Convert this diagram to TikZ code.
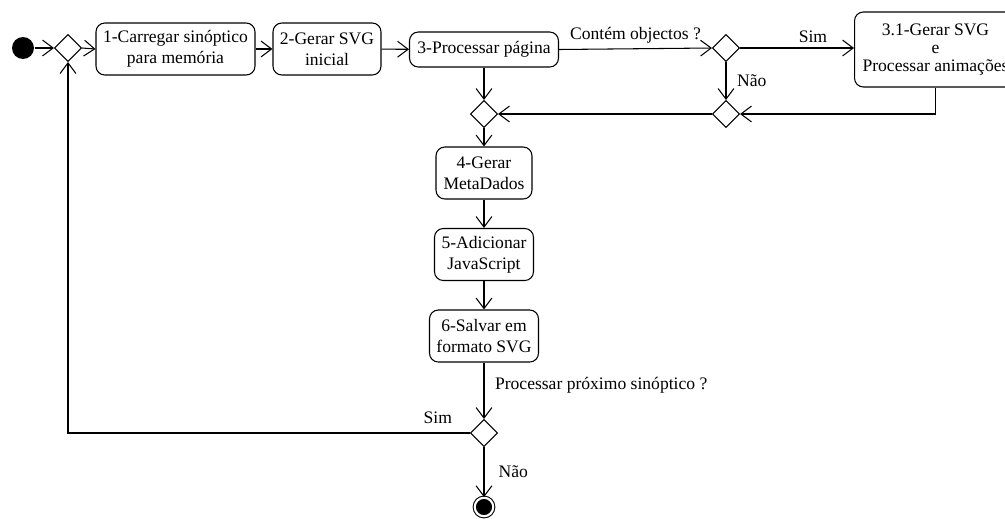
\documentclass[tikz,border=0pt]{standalone}
\usepackage{fontspec}
\setmainfont{Liberation Serif}
\usetikzlibrary{shapes.geometric,arrows.meta}

\tikzset{
  act/.style={draw, rounded corners=5pt, align=center, inner xsep=2pt, inner ysep=2pt, minimum height=1.04cm},
  decis/.style={draw, diamond, aspect=1, inner sep=0pt, minimum size=0.54cm, fill=white},
  flow/.style={-{Straight Barb[length=6pt,width=9pt]}},
  lbl/.style={inner sep=3pt},
}

\begin{document}
\begin{tikzpicture}[x=0.02cm, y=-0.02cm, line width=0.6pt, font=\fontsize{10}{12}\selectfont]
	\clip (0,0) rectangle (1005,518);

	% inicio e fim
	\node[circle, fill=black, minimum size=0.44cm, inner sep=0pt] (inicio) at (23,48) {};
	\node[circle, fill=black, draw, double=white, double distance=1.2pt, minimum size=0.37cm, inner sep=0pt] (fim) at (484,507) {};

	% decisoes
	\node[decis] (d1) at (68,48) {};
	\node[decis] (dObj) at (726,48) {};
	\node[decis] (dJunta) at (484,114) {};
	\node[decis] (dNao) at (726,114) {};
	\node[decis] (dProx) at (484,433) {};

	% actividades
	\node[act, minimum width=3.18cm] (carregar) at (175.5,49) {1-Carregar sinóptico\\para memória};
	\node[act, minimum width=2.16cm] (gerar) at (327,49) {2-Gerar SVG\\inicial};
	\node[act, minimum width=2.98cm, minimum height=0.7cm] (processar) at (484,49.5) {3-Processar página};
	\node[act, minimum width=3.24cm, minimum height=1.5cm, anchor=west] (animar) at (854,49.5)
		{3.1-Gerar SVG\\[-1.5pt]e\\[-1.5pt]Processar animações};
	\node[act, minimum width=1.92cm] (meta) at (484,173) {4-Gerar\\MetaDados};
	\node[act, minimum width=1.98cm] (script) at (484,254.5) {5-Adicionar\\JavaScript};
	\node[act, minimum width=2.18cm] (salvar) at (484,336) {6-Salvar em\\formato SVG};

	% fluxo
	\draw[flow] (inicio) -- (d1.west);
	\draw[flow] (d1.east) -- (carregar.west);
	\draw[flow] (carregar) -- (gerar);
	\draw[flow] (gerar) -- (processar);
	\draw[flow] (processar.east) -- node[midway, above, lbl] {Contém objectos ?} (dObj.west);
	\draw[flow] (dObj.east) -- node[pos=0.64, above, lbl] {Sim} (animar.west |- dObj.east);
	\draw[flow] (dObj.south) -- node[midway, right, lbl, xshift=3pt] {Não} (dNao.north);
	\draw[flow] (animar.south) |- (dNao.east);
	\draw[flow] (dNao.west) -- (dJunta.east);
	\draw[flow] (processar.south) -- (dJunta.north);
	\draw[flow] (dJunta.south) -- (meta.north);
	\draw[flow] (meta) -- (script);
	\draw[flow] (script) -- (salvar);
	\draw[flow] (salvar.south) -- node[pos=0.4, right, lbl, xshift=3pt] {Processar próximo sinóptico ?} (dProx.north);
	\draw[flow] (dProx.south) -- node[midway, right, lbl, xshift=5pt] {Não} (fim.north);
	\draw[flow] (dProx.west) -| node[pos=0.04, above, lbl, yshift=2pt] {Sim} (d1.south);
\end{tikzpicture}
\end{document}
